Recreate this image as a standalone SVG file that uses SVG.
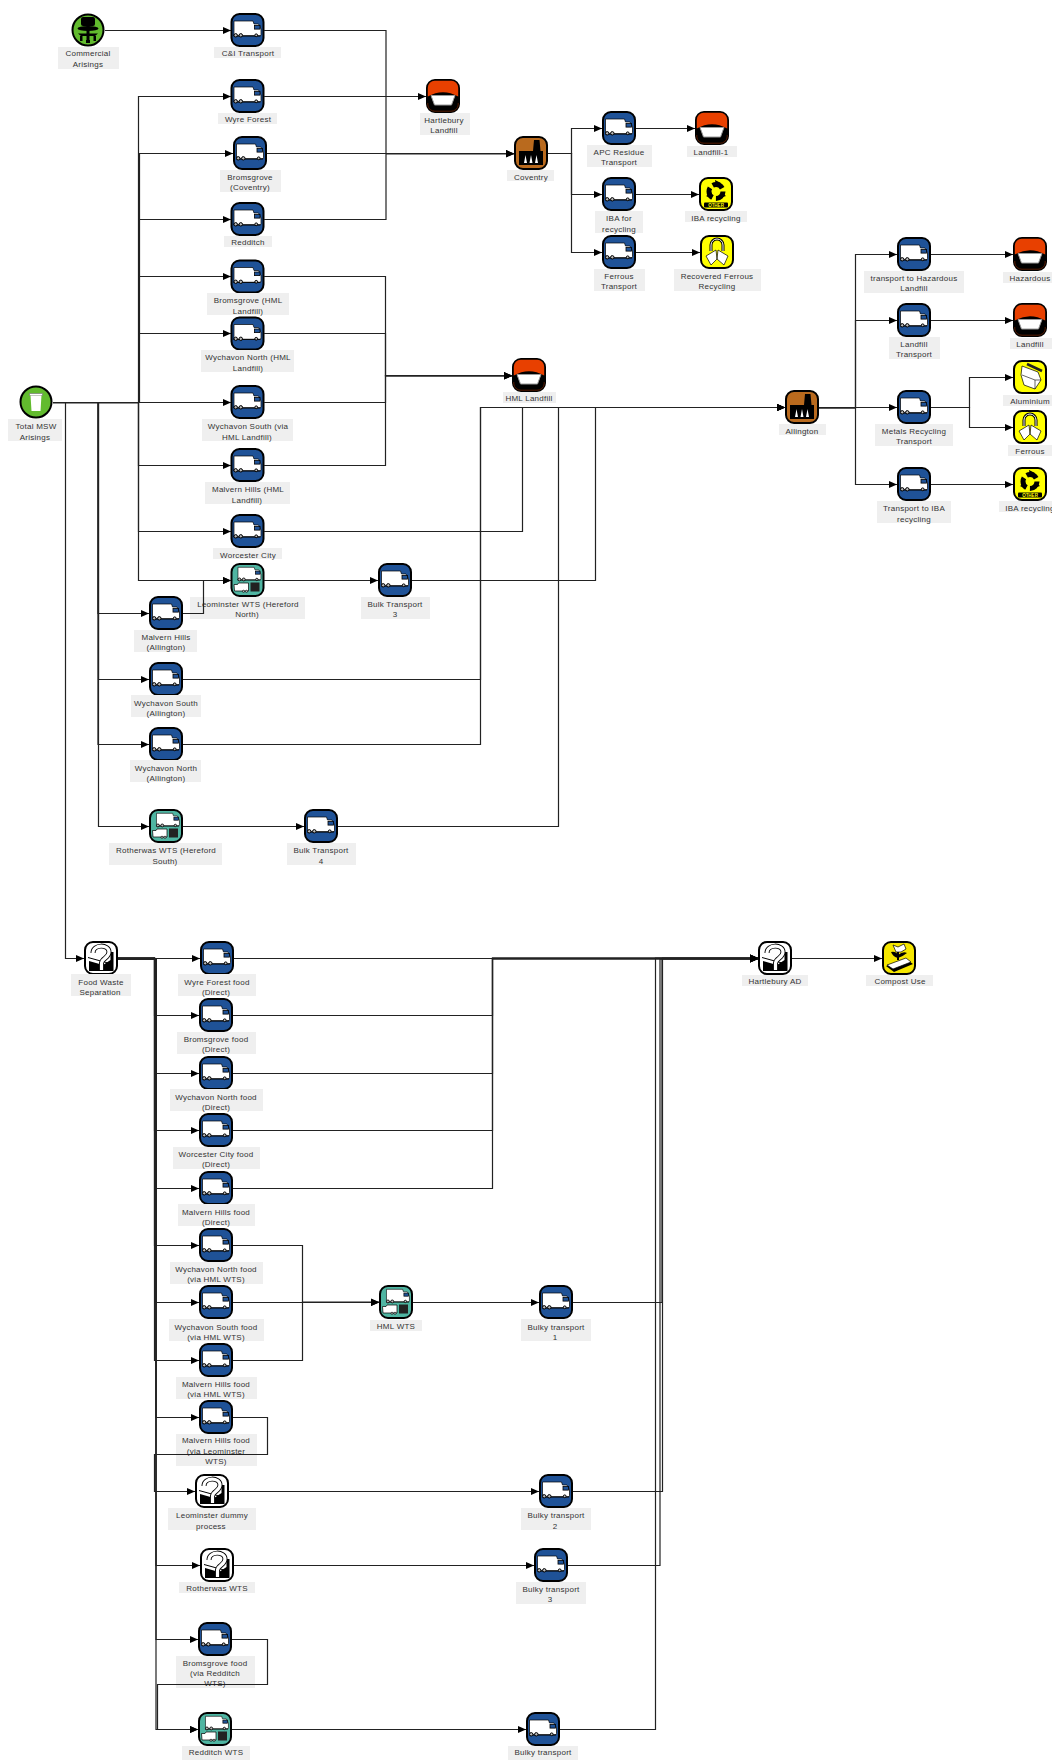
<svg xmlns="http://www.w3.org/2000/svg" width="1052" height="1760" viewBox="0 0 1052 1760">
<style>
text{font-family:"Liberation Sans",Arial,sans-serif;font-size:8px;letter-spacing:.25px;fill:#333;text-anchor:middle}
.lb{fill:#efefef}
.c{fill:none;stroke:#222;stroke-width:1.2;marker-end:url(#arr)}
.k{fill:#000}
.w{fill:#fff;stroke:#000;stroke-width:.7}
.box{stroke:#000;stroke-width:2}
</style>
<defs>
<marker id="arr" markerUnits="userSpaceOnUse" markerWidth="8" markerHeight="8" refX="8" refY="4" orient="auto"><path d="M0 .5L8 4L0 7.500Z" fill="#000"/></marker>
<g id="vanbody"><path class="w" d="M3.500 8H22.500L23.500 11H28L30.500 16V21.500Q30.500 23 29 23H3.500Z"/><rect x="24" y="12.500" width="5.500" height="3.600" fill="#1f5297" stroke="#000" stroke-width=".8"/><path d="M3 22.800H30" stroke="#000" stroke-width="1"/><circle cx="5.200" cy="22.300" r="1.700" fill="#bbb" stroke="#000"/><circle cx="10.300" cy="22.300" r="1.700" fill="#bbb" stroke="#000"/><circle cx="25.700" cy="22.300" r="1.400" fill="#bbb" stroke="#000"/></g>
<g id="van"><rect class="box" x="1" y="1" width="32" height="32" rx="8" fill="#1f5297"/><use href="#vanbody"/></g>
<g id="wts"><rect class="box" x="1" y="1" width="32" height="32" rx="8" fill="#4fb5a2"/><g transform="translate(4.500 -2.500) scale(.85)"><use href="#vanbody"/></g><path class="w" d="M3.500 21.500H7L8 20H18V28H4Z"/><circle cx="13" cy="28.300" r="1.100" fill="#bbb" stroke="#000" stroke-width=".6"/><circle cx="16" cy="28.300" r="1.100" fill="#bbb" stroke="#000" stroke-width=".6"/><rect x="20" y="19.500" width="9" height="9" fill="#222"/></g>
<g id="quest"><rect class="box" x="1" y="1" width="32" height="32" rx="8" fill="#fff"/><path class="k" d="M5 20L19 24L26.500 19V11H29.500V30H5Z"/><path d="M4 16.500L24 22" stroke="#000" stroke-width="1"/><path d="M9 12C9 3 25 3 25 11C25 17 18 17 17.500 22V29" fill="none" stroke="#000" stroke-width="5"/><path d="M9 12C9 3 25 3 25 11C25 17 18 17 17.500 22V29" fill="none" stroke="#fff" stroke-width="3.200"/></g>
<g id="land"><rect x="1" y="1" width="32" height="32" rx="8" fill="#000" stroke="#000" stroke-width="2"/><path d="M9 1.800H25A7 7 0 0 1 32.200 9V17.500Q17 9 1.800 17.500V9A7 7 0 0 1 9 1.800Z" fill="#e84000"/><path d="M5 16.500H29L25.500 26H8.500Z" fill="#fff" stroke="#999" stroke-width="1"/><path d="M1.800 24V26A7 7 0 0 0 9 32.200H25A7 7 0 0 0 32.200 26V24" fill="none" stroke="#7a2500" stroke-width=".7"/></g>
<g id="fact"><rect class="box" x="1" y="1" width="32" height="32" rx="8" fill="#b96a1e"/><path class="k" d="M20 4H25.500L26.500 15H29V29H5V15H19Z"/><path d="M11.500 19L13 27H10ZM17 19L18.500 27H15.500ZM22.500 19L24 27H21Z" fill="#fff"/></g>
<g id="recy"><rect class="box" x="1" y="1" width="32" height="32" rx="8" fill="#ff0"/><circle cx="17" cy="14.500" r="7" fill="none" stroke="#000" stroke-width="5" stroke-dasharray="11 3.660"/><path class="k" d="M16 3L22 6L17 9ZM27 19L21 21L22 15ZM7 19L12 16L13 22Z"/><rect x="5" y="25.500" width="24" height="5" rx="1" fill="#000"/><text x="17" y="30" style="font-size:4.500px;font-weight:bold;fill:#ff0;letter-spacing:0">OTHER</text></g>
<g id="phones"><rect class="box" x="1" y="1" width="32" height="32" rx="8" fill="#ff0"/><path d="M11 16V10A6 6 0 0 1 23 10V16" fill="none" stroke="#000" stroke-width="3"/><path d="M11 16V10A6 6 0 0 1 23 10V16" fill="none" stroke="#fff" stroke-width="1"/><path class="w" d="M6 21L16 15L17 24L11 30ZM28 21L18 15L17 24L24 30Z"/></g>
<g id="alu"><rect class="box" x="1" y="1" width="32" height="32" rx="8" fill="#ff0"/><path class="w" d="M9 6L25 12L28 20L22 29L11 25L8 15Z"/><path d="M14 4L29 11" stroke="#222" stroke-width="2.500"/><path d="M9 15L22 20L22 29M22 20L28 20" fill="none" stroke="#000" stroke-width=".6"/></g>
<g id="comp"><rect class="box" x="1" y="1" width="32" height="32" rx="8" fill="#f5e600"/><path class="k" d="M4 25L24 18L31 23L12 31Z"/><path class="w" d="M5 24L24 17L29 21L11 28Z"/><path d="M16 9V19" stroke="#000" stroke-width="2"/><path class="k" d="M9 11Q14 10 16 14Q21 10 25 12Q20 16 16 17Q11 16 9 11Z"/><path class="w" d="M11 4L16 6L22 3L24 8L19 11H14Z"/></g>
<g id="bin"><circle class="box" cx="17" cy="17" r="15.500" fill="#62bb2e"/><path d="M10.500 8.500H23.500V10.500H10.500Z" fill="#fff" stroke="#777" stroke-width=".7"/><path d="M11.500 10.500H22.500L21.500 26H12.500Z" fill="#fff"/></g>
<g id="chair"><circle class="box" cx="17" cy="17" r="15.500" fill="#62bb2e"/><rect x="10" y="4" width="14" height="9" rx="2" fill="#000"/><rect x="15.500" y="12" width="3" height="16" fill="#000"/><ellipse cx="17" cy="15.500" rx="10.500" ry="2.500" fill="#000"/><path d="M7 20.500H27L24 23H10Z" fill="#000"/><rect x="9" y="23" width="2.500" height="5" fill="#000"/><rect x="22.500" y="23" width="2.500" height="5" fill="#000"/><rect x="15" y="27" width="4" height="3" fill="#000"/></g>
</defs>

<g id="n-commercial"><use href="#chair" x="71" y="13"/><rect class="lb" x="58" y="47" width="61" height="22"/><text x="88" y="56">Commercial</text><text x="88" y="66.500">Arisings</text></g>
<g id="n-ci"><use href="#van" x="230.500" y="13"/><rect class="lb" x="214" y="47" width="67" height="11"/><text x="248" y="56">C&amp;I Transport</text></g>
<g id="n-wyre"><use href="#van" x="230.500" y="79"/><rect class="lb" x="218" y="113" width="59" height="11"/><text x="248" y="122">Wyre Forest</text></g>
<g id="n-bromcov"><use href="#van" x="233" y="136"/><rect class="lb" x="220" y="170" width="61" height="22"/><text x="250" y="179.500">Bromsgrove</text><text x="250" y="190">(Coventry)</text></g>
<g id="n-redditch"><use href="#van" x="230.500" y="202"/><rect class="lb" x="224" y="236" width="48" height="11"/><text x="248" y="245">Redditch</text></g>
<g id="n-bromhml"><use href="#van" x="230.500" y="259.500"/><rect class="lb" x="207" y="293" width="82" height="22"/><text x="248" y="303">Bromsgrove (HML</text><text x="248" y="313.500">Landfill)</text></g>
<g id="n-wnhml"><use href="#van" x="230.500" y="316.500"/><rect class="lb" x="201" y="350" width="93" height="22"/><text x="248" y="360">Wychavon North (HML</text><text x="248" y="370.500">Landfill)</text></g>
<g id="n-wshml"><use href="#van" x="230.500" y="385"/><rect class="lb" x="202" y="419" width="91" height="22"/><text x="248" y="428.500">Wychavon South (via</text><text x="247" y="439.500">HML Landfill)</text></g>
<g id="n-mhhml"><use href="#van" x="230.500" y="448"/><rect class="lb" x="205" y="482" width="85" height="22"/><text x="248" y="491.500">Malvern Hills (HML</text><text x="247" y="502.500">Landfill)</text></g>
<g id="n-worc"><use href="#van" x="230.500" y="514"/><rect class="lb" x="213" y="548" width="69" height="11"/><text x="248" y="557.500">Worcester City</text></g>
<g id="n-leom"><use href="#wts" x="230.500" y="563"/><rect class="lb" x="190" y="597" width="115" height="22"/><text x="248" y="606.500">Leominster WTS (Hereford</text><text x="247" y="616.500">North)</text></g>
<g id="n-bulk3"><use href="#van" x="378" y="563"/><rect class="lb" x="361" y="597" width="69" height="22"/><text x="395" y="606.500">Bulk Transport</text><text x="395" y="616.500">3</text></g>
<g id="n-mhall"><use href="#van" x="149" y="596"/><rect class="lb" x="134" y="630" width="63" height="22"/><text x="166" y="639.500">Malvern Hills</text><text x="166" y="649.500">(Allington)</text></g>
<g id="n-wsall"><use href="#van" x="149" y="662"/><rect class="lb" x="131" y="695" width="70" height="22"/><text x="166" y="706">Wychavon South</text><text x="166" y="716">(Allington)</text></g>
<g id="n-wnall"><use href="#van" x="149" y="727"/><rect class="lb" x="130" y="760" width="71" height="22"/><text x="166" y="771">Wychavon North</text><text x="166" y="781">(Allington)</text></g>
<g id="n-roth"><use href="#wts" x="149" y="809"/><rect class="lb" x="109" y="843" width="113" height="22"/><text x="166" y="852.500">Rotherwas WTS (Hereford</text><text x="165" y="863.500">South)</text></g>
<g id="n-bulk4"><use href="#van" x="304" y="809"/><rect class="lb" x="287" y="843" width="69" height="22"/><text x="321" y="852.500">Bulk Transport</text><text x="321" y="863.500">4</text></g>
<g id="n-msw"><use href="#bin" x="19" y="385"/><rect class="lb" x="8" y="419" width="54" height="22"/><text x="36" y="428.500">Total MSW</text><text x="35" y="439.500">Arisings</text></g>
<g id="n-hartland"><use href="#land" x="426" y="79"/><rect class="lb" x="420" y="113" width="50" height="22"/><text x="444" y="122.500">Hartlebury</text><text x="444" y="132.500">Landfill</text></g>
<g id="n-cov"><use href="#fact" x="514" y="136"/><rect class="lb" x="507" y="170" width="47" height="11"/><text x="531" y="179.500">Coventry</text></g>
<g id="n-apc"><use href="#van" x="602" y="111"/><rect class="lb" x="587" y="145" width="65" height="22"/><text x="619" y="155">APC Residue</text><text x="619" y="165">Transport</text></g>
<g id="n-lf1"><use href="#land" x="695" y="111"/><rect class="lb" x="687" y="146" width="50" height="11"/><text x="711" y="155">Landfill-1</text></g>
<g id="n-ibafor"><use href="#van" x="602" y="177"/><rect class="lb" x="595" y="211" width="48" height="22"/><text x="619" y="220.500">IBA for</text><text x="619" y="231.500">recycling</text></g>
<g id="n-iba1"><use href="#recy" x="699" y="177"/><rect class="lb" x="685" y="211" width="62" height="11"/><text x="716" y="220.500">IBA recycling</text></g>
<g id="n-ferrt"><use href="#van" x="602" y="235"/><rect class="lb" x="594" y="269" width="51" height="22"/><text x="619" y="278.500">Ferrous</text><text x="619" y="288.500">Transport</text></g>
<g id="n-recf"><use href="#phones" x="700" y="235"/><rect class="lb" x="674" y="269" width="87" height="22"/><text x="717" y="278.500">Recovered Ferrous</text><text x="717" y="288.500">Recycling</text></g>
<g id="n-hml"><use href="#land" x="512" y="358"/><rect class="lb" x="503" y="392" width="53" height="11"/><text x="529" y="401">HML Landfill</text></g>
<g id="n-all"><use href="#fact" x="785" y="390"/><rect class="lb" x="779" y="424" width="47" height="11"/><text x="802" y="433.500">Allington</text></g>
<g id="n-thz"><use href="#van" x="897" y="237"/><rect class="lb" x="864" y="271" width="100" height="22"/><text x="914" y="281">transport to Hazardous</text><text x="914" y="291">Landfill</text></g>
<g id="n-haz"><use href="#land" x="1013" y="237"/><rect class="lb" x="1003" y="272" width="49" height="11"/><text x="1030" y="281">Hazardous</text></g>
<g id="n-lt"><use href="#van" x="897" y="303"/><rect class="lb" x="889" y="337" width="51" height="22"/><text x="914" y="346.500">Landfill</text><text x="914" y="356.500">Transport</text></g>
<g id="n-lf"><use href="#land" x="1013" y="303"/><rect class="lb" x="1010" y="338" width="42" height="11"/><text x="1030" y="346.500">Landfill</text></g>
<g id="n-met"><use href="#van" x="897" y="390"/><rect class="lb" x="875" y="424" width="78" height="22"/><text x="914" y="433.500">Metals Recycling</text><text x="914" y="443.500">Transport</text></g>
<g id="n-alu"><use href="#alu" x="1013" y="360"/><rect class="lb" x="1003" y="395" width="49" height="11"/><text x="1030" y="404">Aluminium</text></g>
<g id="n-fe"><use href="#phones" x="1013" y="410"/><rect class="lb" x="1008" y="445" width="44" height="11"/><text x="1030" y="454">Ferrous</text></g>
<g id="n-tib"><use href="#van" x="897" y="467"/><rect class="lb" x="877" y="501" width="74" height="22"/><text x="914" y="510.500">Transport to IBA</text><text x="914" y="521.500">recycling</text></g>
<g id="n-iba2"><use href="#recy" x="1013" y="467"/><rect class="lb" x="999" y="501" width="53" height="11"/><text x="1030" y="510.500">IBA recycling</text></g>

<g id="n-fws"><use href="#quest" x="84" y="941"/><rect class="lb" x="71" y="974" width="60" height="22"/><text x="101" y="984.500">Food Waste</text><text x="100" y="994.500">Separation</text></g>
<g id="n-f1"><use href="#van" x="200" y="941"/><rect class="lb" x="178" y="974" width="78" height="22"/><text x="217" y="984.500">Wyre Forest food</text><text x="216" y="994.500">(Direct)</text></g>
<g id="n-f2"><use href="#van" x="199" y="998"/><rect class="lb" x="177" y="1032" width="79" height="22"/><text x="216" y="1041.500">Bromsgrove food</text><text x="216" y="1051.500">(Direct)</text></g>
<g id="n-f3"><use href="#van" x="199" y="1056"/><rect class="lb" x="170" y="1089" width="93" height="22"/><text x="216" y="1099.500">Wychavon North food</text><text x="216" y="1109.500">(Direct)</text></g>
<g id="n-f4"><use href="#van" x="199" y="1113"/><rect class="lb" x="173" y="1147" width="87" height="22"/><text x="216" y="1156.500">Worcester City food</text><text x="216" y="1166.500">(Direct)</text></g>
<g id="n-f5"><use href="#van" x="199" y="1171"/><rect class="lb" x="178" y="1204" width="77" height="22"/><text x="216" y="1214.500">Malvern Hills food</text><text x="216" y="1224.500">(Direct)</text></g>
<g id="n-f6"><use href="#van" x="199" y="1228"/><rect class="lb" x="170" y="1262" width="93" height="22"/><text x="216" y="1271.500">Wychavon North food</text><text x="216" y="1281.500">(via HML WTS)</text></g>
<g id="n-f7"><use href="#van" x="199" y="1285"/><rect class="lb" x="169" y="1319" width="95" height="22"/><text x="216" y="1329.500">Wychavon South food</text><text x="216" y="1339.500">(via HML WTS)</text></g>
<g id="n-f8"><use href="#van" x="199" y="1343"/><rect class="lb" x="176" y="1377" width="81" height="22"/><text x="216" y="1386.500">Malvern Hills food</text><text x="216" y="1396.500">(via HML WTS)</text></g>
<g id="n-f9"><use href="#van" x="199" y="1400"/><rect class="lb" x="176" y="1434" width="81" height="32"/><text x="216" y="1443">Malvern Hills food</text><text x="216" y="1454">(via Leominster</text><text x="216" y="1464">WTS)</text></g>
<g id="n-ldp"><use href="#quest" x="195" y="1474"/><rect class="lb" x="168" y="1508" width="88" height="22"/><text x="212" y="1517.500">Leominster dummy</text><text x="211" y="1528.500">process</text></g>
<g id="n-rw"><use href="#quest" x="200" y="1548"/><rect class="lb" x="179" y="1582" width="76" height="11"/><text x="217" y="1591">Rotherwas WTS</text></g>
<g id="n-f10"><use href="#van" x="198" y="1622"/><rect class="lb" x="176" y="1656" width="79" height="32"/><text x="215" y="1665.500">Bromsgrove food</text><text x="215" y="1675.500">(via Redditch</text><text x="215" y="1686">WTS)</text></g>
<g id="n-rdw"><use href="#wts" x="198" y="1712"/><rect class="lb" x="182" y="1746" width="68" height="14"/><text x="216" y="1755">Redditch WTS</text></g>
<g id="n-hw"><use href="#wts" x="379" y="1285"/><rect class="lb" x="370" y="1320" width="52" height="11"/><text x="396" y="1329">HML WTS</text></g>
<g id="n-b1"><use href="#van" x="539" y="1285"/><rect class="lb" x="521" y="1319" width="70" height="22"/><text x="556" y="1329.500">Bulky transport</text><text x="555" y="1339.500">1</text></g>
<g id="n-b2"><use href="#van" x="539" y="1474"/><rect class="lb" x="521" y="1508" width="70" height="22"/><text x="556" y="1517.500">Bulky transport</text><text x="555" y="1528.500">2</text></g>
<g id="n-b3"><use href="#van" x="534" y="1548"/><rect class="lb" x="516" y="1582" width="70" height="22"/><text x="551" y="1591.500">Bulky transport</text><text x="550" y="1601.500">3</text></g>
<g id="n-b4"><use href="#van" x="526" y="1712"/><rect class="lb" x="508" y="1746" width="70" height="14"/><text x="543" y="1755">Bulky transport</text></g>
<g id="n-had"><use href="#quest" x="758" y="941"/><rect class="lb" x="742" y="975" width="66" height="11"/><text x="775" y="984">Hartlebury AD</text></g>
<g id="n-cu"><use href="#comp" x="882" y="941"/><rect class="lb" x="866" y="975" width="67" height="11"/><text x="900" y="984">Compost Use</text></g>

<g id="connectors">
<path class="c" d="M105 30.500H231"/>
<path class="c" d="M264 30.500H386V153.500H514"/>
<path class="c" d="M264 96.500H426"/>
<path class="c" d="M267 153.500H514"/>
<path class="c" d="M264 219.500H386V154H514"/>
<path class="c" d="M53 402.500H138.500V96.500H231"/>
<path class="c" d="M53 402.500H139.500V153.500H233"/>
<path class="c" d="M53 402.500H139V219.500H231"/>
<path class="c" d="M53 402.500H139V276.500H231"/>
<path class="c" d="M53 402.500H139V333.500H231"/>
<path class="c" d="M53 402.500H231"/>
<path class="c" d="M53 403H138.500V465.500H231"/>
<path class="c" d="M53 402.500H138.500V531.500H231"/>
<path class="c" d="M53 402.500H138.500V580.500H231"/>
<path class="c" d="M53 402.500H98V613.500H149"/>
<path class="c" d="M53 402.500H98.500V679.500H149"/>
<path class="c" d="M53 402.500H98V744.500H149"/>
<path class="c" d="M53 402.500H98.500V826.500H149"/>
<path class="c" d="M53 402.500H65.500V958.500H84"/>
<path class="c" d="M264 276.500H385.500V375.500H512"/>
<path class="c" d="M264 333.500H385.500V376H512"/>
<path class="c" d="M264 402.500H385.500V375.500H512"/>
<path class="c" d="M264 465.500H385.500V376H512"/>
<path class="c" d="M183 613.500H203.500V580.500H231"/>
<path class="c" d="M264 531.500H522.500V407.500H785"/>
<path class="c" d="M264 580.500H378"/>
<path class="c" d="M412 580.500H595.500V407.500H785"/>
<path class="c" d="M183 679.500H480.500V407.500H785"/>
<path class="c" d="M183 744.500H480.500V407.500H785"/>
<path class="c" d="M183 826.500H304"/>
<path class="c" d="M338 826.500H558.500V407.500H785"/>
<path class="c" d="M548 153.500H571.500V128.500H602"/>
<path class="c" d="M548 153.500H571.500V194.500H602"/>
<path class="c" d="M548 153.500H571.500V252.500H602"/>
<path class="c" d="M636 128.500H695"/>
<path class="c" d="M636 194.500H699"/>
<path class="c" d="M636 252.500H700"/>
<path class="c" d="M819 407.500H855.500V254.500H897"/>
<path class="c" d="M819 408H855.500V320.500H897"/>
<path class="c" d="M819 407.500H897"/>
<path class="c" d="M819 408H855.500V484.500H897"/>
<path class="c" d="M931 254.500H1013"/>
<path class="c" d="M931 320.500H1013"/>
<path class="c" d="M931 407.500H969.500V377.500H1013"/>
<path class="c" d="M931 407.500H969.500V427.500H1013"/>
<path class="c" d="M931 484.500H1013"/>
<path class="c" d="M118 958.500H200"/>
<path class="c" d="M118 958H154.500V1015.500H199"/>
<path class="c" d="M118 959H156V1073.500H199"/>
<path class="c" d="M118 958H154.500V1130.500H199"/>
<path class="c" d="M118 959H156V1188.500H199"/>
<path class="c" d="M118 958H154.500V1245.500H199"/>
<path class="c" d="M118 959H156V1302.500H199"/>
<path class="c" d="M118 958H154.500V1360.500H199"/>
<path class="c" d="M118 959H156V1417.500H199"/>
<path class="c" d="M118 959H156V1565.500H200"/>
<path class="c" d="M118 959H156V1639.500H198"/>
<path class="c" d="M118 959H156V1729.500H198"/>
<path class="c" d="M234 958.500H758"/>
<path class="c" d="M233 1015.500H492.500V958H758"/>
<path class="c" d="M233 1073.500H492.500V959H758"/>
<path class="c" d="M233 1130.500H492.500V958H758"/>
<path class="c" d="M233 1188.500H492.500V959H758"/>
<path class="c" d="M233 1245.500H302.500V1302.500H379"/>
<path class="c" d="M233 1302.500H379"/>
<path class="c" d="M233 1360.500H302.500V1302H379"/>
<path class="c" d="M233 1417.500H267.500V1454.500H154.500V1491.500H195"/>
<path class="c" d="M232 1639.500H267.500V1684.500H157.500V1729.500H198"/>
<path class="c" d="M413 1302.500H539"/>
<path class="c" d="M229 1491.500H539"/>
<path class="c" d="M234 1565.500H534"/>
<path class="c" d="M232 1729.500H526"/>
<path class="c" d="M573 1302.500H662V959H758"/>
<path class="c" d="M573 1491.500H662.500V958H758"/>
<path class="c" d="M568 1565.500H660V959H758"/>
<path class="c" d="M560 1729.500H655.500V958H758"/>
<path class="c" d="M792 958.500H882"/>
</g>
</svg>
